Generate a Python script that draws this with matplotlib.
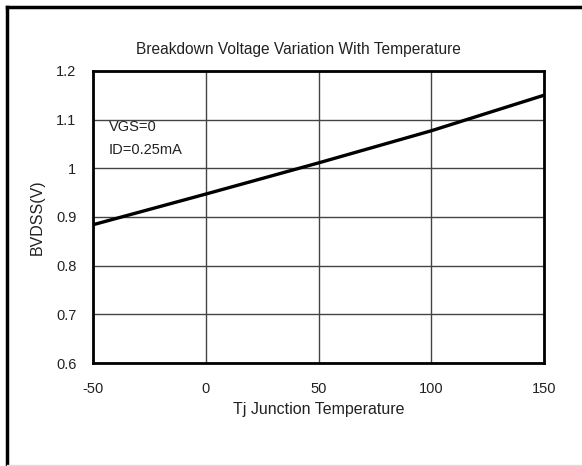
import matplotlib
matplotlib.use('Agg')
import matplotlib.pyplot as plt
from matplotlib.lines import Line2D

# data
temps = [-50, 0, 50, 100, 150]
bvdss = [0.884, 0.947, 1.011, 1.077, 1.150]
xticks = [-50, 0, 50, 100, 150]
yticks = [0.6, 0.7, 0.8, 0.9, 1.0, 1.1, 1.2]
ytick_labels = ['0.6', '0.7', '0.8', '0.9', '1', '1.1', '1.2']

plt.rcParams['font.family'] = ['Liberation Sans', 'DejaVu Sans']
plt.rcParams['axes.unicode_minus'] = False

fig = plt.figure(figsize=(5.82, 4.66), dpi=100)
ax = fig.add_axes([0.160, 0.221, 0.775, 0.627])

ax.plot(temps, bvdss, color='black', linewidth=2.4, solid_capstyle='butt', zorder=3)

ax.set_xlim(-50, 150)
ax.set_ylim(0.6, 1.2)
ax.set_xticks(xticks)
ax.set_yticks(yticks)
ax.set_yticklabels(ytick_labels)
ax.grid(True, color='#444444', linewidth=1.0)
ax.tick_params(length=0, labelsize=10.5, colors='#222222')
ax.tick_params(axis='x', pad=14)
ax.tick_params(axis='y', pad=12)
for sp in ax.spines.values():
    sp.set_linewidth(2.0)
    sp.set_color('black')

ax.set_xlabel('Tj Junction Temperature', fontsize=11.5, color='#222222', labelpad=4)
ax.set_ylabel('BVDSS(V)', fontsize=11.5, color='#222222', labelpad=8)

ax.text(-43, 1.085, 'VGS=0', fontsize=10.5, color='#222222', va='center')
ax.text(-43, 1.038, 'ID=0.25mA', fontsize=10.5, color='#222222', va='center')

fig.text(0.512, 0.893, 'Breakdown Voltage Variation With Temperature',
         fontsize=11.2, color='#222222', ha='center', va='center')

# outer frame (top and left only, like the source image)
fig.add_artist(Line2D([0.012, 1.0], [0.986, 0.986], color='black', linewidth=2.5,
                      transform=fig.transFigure))
fig.add_artist(Line2D([0.012, 0.012], [0.0, 0.986], color='black', linewidth=2.5,
                      transform=fig.transFigure))
fig.add_artist(Line2D([0.012, 1.0], [0.003, 0.003], color='#dddddd', linewidth=1.0,
                      transform=fig.transFigure))

fig.savefig('out.png', dpi=100)
